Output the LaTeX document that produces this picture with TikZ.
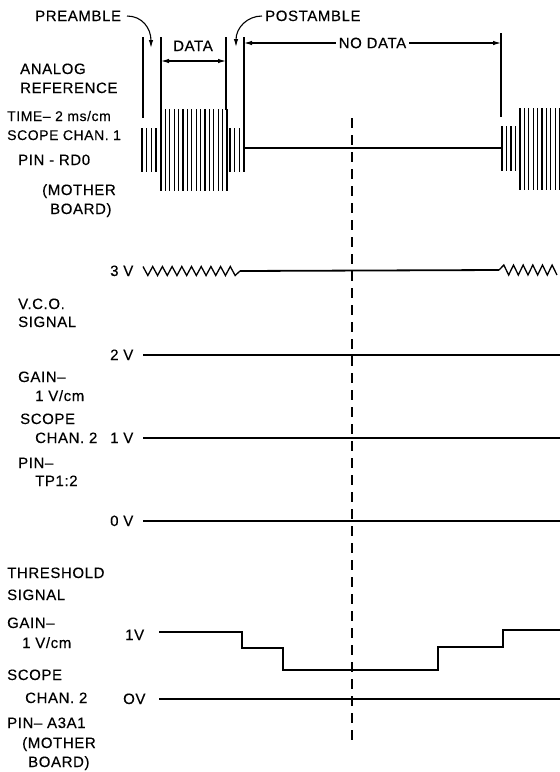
\documentclass[tikz,border=0pt]{standalone}
\usepackage{fontspec}
\setmainfont{Liberation Sans}[LetterSpace=4,FakeBold=0.3]
\usetikzlibrary{arrows.meta}
\begin{document}
\begin{tikzpicture}[x=1pt,y=-1pt,
  lbl/.style={anchor=base west,inner sep=0pt,font=\fontsize{15}{15}\selectfont},
  small/.style={font=\fontsize{14}{14}\selectfont},
  mline/.style={line width=1.1pt},
  wave/.style={line width=1.8pt},
  bline/.style={line width=1.2pt},
  arr/.style={mline,-{Latex[length=8pt,width=4.5pt]}},
  darr/.style={mline,{Latex[length=8pt,width=4.5pt]}-{Latex[length=8pt,width=4.5pt]}},
  dline/.style={line width=1.1pt,dash pattern=on 10pt off 7pt}]
\useasboundingbox (0,0) rectangle (560,772);

% ---------- top: analog reference ----------
\node[lbl] (pre) at (35,21) {PREAMBLE};
\node[lbl] (post) at (265,21) {POSTAMBLE};
\node[lbl,anchor=base] (data) at (193,51) {DATA};

\coordinate (preS) at (127,16);
\coordinate (preT) at (151,48);
\coordinate (postS) at (262,16);
\coordinate (postT) at (236,47);
\draw[arr] (preS) .. controls (142,16) and (151,28) .. (preT);
\draw[arr] (postS) .. controls (247,16) and (236,28) .. (postT);

% marker lines
\draw[mline] (143,37) -- (143,118);
\draw[mline] (161,37) -- (161,110);
\draw[mline] (226,37) -- (226,110);
\draw[mline] (244,37) -- (244,172);
\draw[mline] (501,33) -- (501,117);

\coordinate (dL) at (161,61);
\coordinate (dR) at (226,61);
\draw[darr] (dL) -- (dR);
\coordinate (nL) at (244,43);
\coordinate (nR) at (501,43);
\draw[darr] (nL) -- (nR) node[midway,fill=white,inner xsep=3pt,inner ysep=1pt,font=\fontsize{15}{15}\selectfont] (nodata) {NO DATA};

% bursts
\foreach \x in {142,146.7,151.3,156}{\draw[bline] (\x,128) -- (\x,172);}
\foreach \i in {0,...,15}{\draw[bline] ({161+\i*4.4},109) -- ({161+\i*4.4},191);}
\foreach \x in {230,234.7,239.3}{\draw[bline] (\x,128) -- (\x,172);}
\draw[wave] (244,148) -- (501,148);
\foreach \x in {502,506.5,511,515.5}{\draw[bline] (\x,126) -- (\x,171);}
\foreach \i in {0,...,9}{\draw[bline] ({520+\i*4.4},108) -- ({520+\i*4.4},190);}

\node[lbl] (ana) at (20,74) {ANALOG};
\node[lbl] (ref) at (20,93) {REFERENCE};
\node[lbl,small] (time) at (7,121) {TIME– 2 ms/cm};
\node[lbl,small] (sc1) at (7,140) {SCOPE CHAN. 1};
\node[lbl] (pin1) at (18,165) {PIN - RD0};
\node[lbl] (mo1) at (42,195) {(MOTHER};
\node[lbl] (bo1) at (50,214) {BOARD)};

% dashed reference line
\coordinate (dsT) at (352,118);
\coordinate (dsB) at (352,742);
\draw[dline] (dsT) -- (dsB);

% ---------- VCO ----------
\node[lbl] (v3) at (110,276) {3 V};
\draw[line width=1.3pt,line join=miter] (143,266.5) \foreach \i in {1,...,19}{ -- ({143+\i*4.85},{271-4.5*cos(180*\i)}) } -- (240,271);
\draw[wave] (240,271) -- (499,270);
\draw[line width=1.3pt,line join=miter] (499,270) \foreach \j in {1,...,12}{ -- ({499+\j*4.83},{270+5*cos(180*\j)}) };

\node[lbl] (vco) at (18,309) {V.C.O.};
\node[lbl] (sig1) at (18,327) {SIGNAL};
\node[lbl] (v2) at (110,360) {2 V};
\draw[wave] (143,355) -- (560,355);
\node[lbl] (gain1) at (18,382) {GAIN–};
\node[lbl] (vcm1) at (35,401) {1 V/cm};
\node[lbl] (sc2) at (20,424) {SCOPE};
\node[lbl] (ch2) at (35,443) {CHAN. 2};
\node[lbl] (v1) at (110,443) {1 V};
\draw[wave] (143,438) -- (560,438);
\node[lbl] (pin2) at (18,468) {PIN–};
\node[lbl] (tp) at (35,486) {TP1:2};
\node[lbl] (v0) at (110,526) {0 V};
\draw[wave] (143,521) -- (560,521);

% ---------- threshold ----------
\node[lbl] (thr) at (7,578) {THRESHOLD};
\node[lbl] (sig2) at (7,600) {SIGNAL};
\node[lbl] (gain2) at (7,628) {GAIN–};
\node[lbl] (vcm2) at (22,648) {1 V/cm};
\node[lbl] (t1) at (125,640) {1V};
\node[lbl] (sc3) at (7,680) {SCOPE};
\node[lbl] (ch3) at (25,703) {CHAN. 2};
\node[lbl] (t0) at (123,704) {OV};
\node[lbl] (pin3) at (7,728) {PIN– A3A1};
\node[lbl] (mo2) at (22,748) {(MOTHER};
\node[lbl] (bo2) at (28,767) {BOARD)};

\draw[wave] (159,632) -- (242,632) -- (242,648) -- (283,648) -- (283,670) -- (438,670) -- (438,647) -- (503,647) -- (503,630) -- (560,630);
\draw[wave] (159,699) -- (560,699);
\end{tikzpicture}
\end{document}
